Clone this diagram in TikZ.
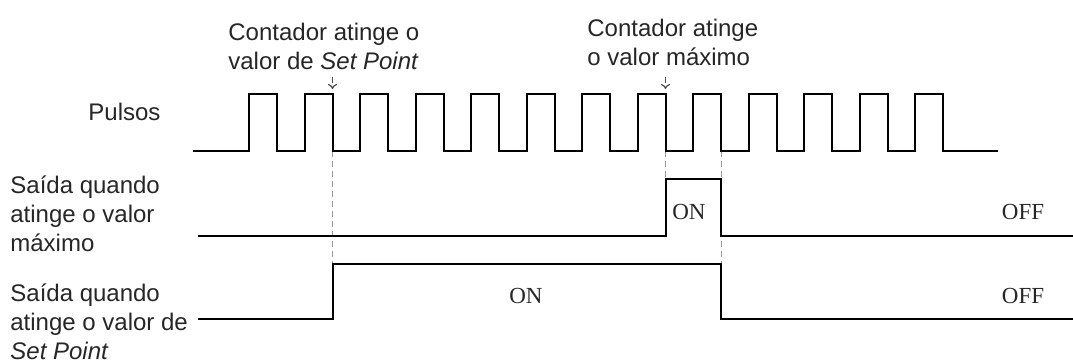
\documentclass[tikz,border=0pt]{standalone}
\usepackage{fontspec}
\setmainfont{Liberation Sans}
\newfontfamily\stateface{Liberation Serif}
\usetikzlibrary{positioning,arrows.meta}

\begin{document}
\begin{tikzpicture}[x=0.5pt,y=-0.5pt,
  % Node Styles
  lbl/.style={inner sep=0pt, align=left, anchor=west, text=black!85, font=\fontsize{12}{14.5}\selectfont},
  statelbl/.style={inner sep=0pt, text=black!85, font=\stateface\fontsize{11.5}{13}\selectfont},
  % Line Styles
  wave/.style={line width=1pt, line join=miter},
  guide/.style={densely dashed, gray!80, line width=0.5pt},
  mark arrow/.style={densely dashed, gray!60!black, line width=0.6pt, -{To[length=2.5pt,width=4.5pt]}},
]
\useasboundingbox (0,0) rectangle (1073,363);

% Labels
\node[lbl] (pulsos) at (88,112) {Pulsos};
\node[lbl] (setlbl) at (228,46.5) {Contador atinge o\\valor de \textit{Set Point}};
\node[lbl] (maxlbl) at (587,42) {Contador atinge\\o valor máximo};
\node[lbl] (rowmax) at (10,214) {Saída quando\\atinge o valor\\máximo};
\node[lbl] (rowset) at (10,322) {Saída quando\\atinge o valor de\\\textit{Set Point}};

% Event points
\coordinate (spTop) at (332.5,77);
\coordinate (spHi) at (332.5,89);
\coordinate (spLo) at (332.5,151);
\coordinate (spOn) at (332.5,264);
\coordinate (mxTop) at (665.5,77);
\coordinate (mxHi) at (665.5,89);
\coordinate (mxLo) at (665.5,151);
\coordinate (mxOn) at (665.5,179);
\coordinate (endLo) at (721,151);
\coordinate (endOn) at (721,264);

% Guides (behind the waves)
\draw[mark arrow] (spTop) -- (spHi);
\draw[mark arrow] (mxTop) -- (mxHi);
\draw[guide] (spLo) -- (spOn);
\draw[guide] (mxLo) -- (mxOn);
\draw[guide] (endLo) -- (endOn);

% Pulse train
\draw[wave] (193,151) foreach \i in {0,...,12} {
    -- ({249+55.5*\i},151) -- ++(0,-57) -- ++(28,0) -- ++(0,57)} -- (998,151);

% Output at maximum
\draw[wave] (198,236) -- (mxOn |- 0,236) -- (mxOn) -- (721,179) -- (721,236) -- (1073,236);
% Output at set point
\draw[wave] (198,319) -- (spOn |- 0,319) -- (spOn) -- (endOn) -- (endOn |- 0,319) -- (1073,319);

\node[statelbl] (onmax) at (689,212) {ON};
\node[statelbl] (offmax) at (1023,212) {OFF};
\node[statelbl] (onset) at (526,296) {ON};
\node[statelbl] (offset) at (1023,296) {OFF};

\end{tikzpicture}
\end{document}
